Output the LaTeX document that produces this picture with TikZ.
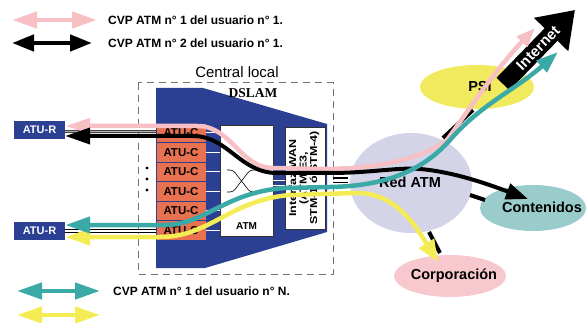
\documentclass[tikz,border=0pt]{standalone}
\usepackage{fontspec}
\setmainfont{Liberation Sans}
\newfontfamily\dslamfont{Liberation Serif}
\newfontfamily\wanfont[FakeStretch=1.25]{Liberation Sans}
\usetikzlibrary{arrows.meta,shapes.geometric}

\definecolor{cvppink}{HTML}{F6C0C4}
\definecolor{cvpteal}{HTML}{3BA9A6}
\definecolor{cvpyellow}{HTML}{F4EC55}
\definecolor{dslamblue}{HTML}{2B3F93}
\definecolor{atucorange}{HTML}{E8714F}
\definecolor{redatm}{HTML}{D3D4E8}
\definecolor{psiyellow}{HTML}{F2EA5E}
\definecolor{contteal}{HTML}{99CCCA}
\definecolor{corppink}{HTML}{F7C8CD}

\tikzset{
  legend/.style={font=\bfseries\fontsize{12}{14}\selectfont, anchor=west, inner sep=0pt},
  cvp/.style={line width=4.5pt},
  atur/.style={fill=dslamblue, text=white, font=\bfseries\fontsize{11}{13}\selectfont,
    minimum width=51pt, minimum height=18pt, inner sep=0pt},
  atuc/.style={fill=atucorange, draw=dslamblue, line width=0.8pt,
    font=\bfseries\fontsize{11.5}{13}\selectfont, minimum width=50pt, minimum height=19.5pt, inner sep=0pt},
  whitebox/.style={fill=white, draw=black!80, line width=0.6pt, inner sep=0pt},
  cloud/.style={font=\bfseries\fontsize{14.5}{17}\selectfont, inner sep=0pt},
  portline/.style={white, line width=0.8pt},
}

\begin{document}
\begin{tikzpicture}[x=1pt,y=-1pt]
\useasboundingbox (0,0) rectangle (586,323);

% leyenda
\node[legend] (leg1) at (108,20) {CVP ATM n° 1 del usuario n° 1.};
\node[legend] (leg2) at (108,43) {CVP ATM n° 2 del usuario n° 1.};
\node[legend] (leg3) at (113,291) {CVP ATM n° 1 del usuario n° N.};
\coordinate (leg4) at (113,315);
\draw[cvp, cvppink, {Triangle[length=25pt,width=16pt]}-{Triangle[length=25pt,width=16pt]}] ([xshift=-96pt]leg1.west) -- ([xshift=-11pt]leg1.west);
\draw[cvp, black, {Triangle[length=22pt,width=16pt]}-{Triangle[length=22pt,width=16pt]}] ([xshift=-96pt]leg2.west) -- ([xshift=-16pt]leg2.west);
\draw[cvp, cvpteal, {Triangle[length=25pt,width=16pt]}-{Triangle[length=25pt,width=16pt]}] ([xshift=-96pt]leg3.west) -- ([xshift=-13pt]leg3.west);
\draw[cvp, cvpyellow, {Triangle[length=25pt,width=16pt]}-{Triangle[length=25pt,width=16pt]}] ([xshift=-96pt]leg4) -- ([xshift=-13pt]leg4);

% redes
\node[ellipse, fill=redatm, minimum width=122pt, minimum height=100pt] (red) at (411,183) {};
\node[cloud] (redtext) at (410,182) {Red ATM};
\node[ellipse, fill=psiyellow, minimum width=114pt, minimum height=44pt] (psi) at (477,87) {};
\node[cloud] (psitext) at (480,87) {PSI};
\node[ellipse, fill=contteal, minimum width=106pt, minimum height=46pt] (cont) at (533,208) {};
\node[cloud] (conttext) at (542,207) {Contenidos};
\node[ellipse, fill=corppink, minimum width=112pt, minimum height=42pt] (corp) at (450,276) {};
\node[cloud] (corptext) at (454,276) {Corporación};

% Internet
\begin{scope}[shift={(503,84)}, rotate=45.8]
  \fill (0,-9) -- (69,-9) -- (69,-24) -- (103,0) -- (69,24) -- (69,9) -- (0,9) -- cycle;
\end{scope}
\node[rotate=45.8, text=white, font=\bfseries\fontsize{15}{17}\selectfont, inner sep=0pt] (inet) at (538,48) {Internet};

% central local
\draw[black!55, line width=1pt, dash pattern=on 7pt off 5pt] (138,83) rectangle (333,274);
\node[font=\fontsize{15}{18}\selectfont] (central) at (237,72) {Central local};
\fill[dslamblue] (156,88) -- (203,88) -- (327,124) -- (327,232) -- (205,268) -- (156,268) -- cycle;
\node[font=\dslamfont\bfseries\fontsize{13.5}{16}\selectfont] (dslam) at (253,93) {DSLAM};
\foreach \y in {168,179,190}
  \fill (147,\y) circle (1.6);

\node[whitebox, minimum width=53pt, minimum height=111pt] (atm) at (246.5,180.5) {};
\draw[line width=0.6pt, rounded corners=3pt] (227,170) -- (233,170) -- (250,192) -- (257,192);
\draw[line width=0.6pt, rounded corners=3pt] (227,192) -- (233,192) -- (250,170) -- (257,170);
\node[font=\bfseries\fontsize{10}{12}\selectfont] (atmtext) at (246.5,226) {ATM};

\foreach \i in {1,...,6} {
  \node[atuc] (atuc\i) at (181,113.25+19.5*\i) {ATU-C};
  \draw[portline] (atuc\i.east) -- (atuc\i.east -| atm.west);
}

\node[whitebox, minimum width=40pt, minimum height=102pt] (wan) at (305,178) {};
\node[rotate=90, align=center, font=\wanfont\bfseries\fontsize{10}{10.5}\selectfont, inner sep=0pt] (wantext) at (304,178) {Interfaz WAN\\(ATM E3,\\STM-1 ó STM-4)};
\foreach \y in {180,185}
  \draw[portline] (atm.east |- 0,\y) -- (wan.west |- 0,\y);

% usuarios
\node[atur] (atur1) at (39.5,130) {ATU-R};
\node[atur] (atur2) at (39.5,231) {ATU-R};
\draw[black!75, double=black!30, double distance=1.6pt, line width=0.7pt] (atur1.east |- 0,131.5) -- (atuc1.west |- 0,131.5);
\draw[black, double=white, double distance=2pt, line width=0.6pt] (atur2.east) -- (atur2.east -| atuc6.west);

% tramos negros
\draw[line width=1.6pt] (333,178) -- (348,178) (333,182.5) -- (348,182.5);
\draw[line width=4pt] (443,138) -- (473,110);
\draw[line width=4pt] (470,195) -- (485,200);
\draw[line width=4pt] (429,232) -- (440,253);

% circuitos virtuales
\coordinate (pinkend) at (535,28);
\coordinate (tealend) at (558,52);
\coordinate (blackend) at (528,199);
\coordinate (yellowend) at (438,262);
\draw[cvp, cvppink, {Triangle[length=25pt,width=15pt]}-{Triangle[length=19pt,width=14pt]}] ([yshift=4pt]atur1.east) -- (197,126) .. controls (232,126) and (240,168) .. (273,168) -- (320,169) .. controls (375,169) and (420,160) .. (447,140) .. controls (463,118) and (495,70) .. (pinkend);
\draw[cvp, black, line width=4pt, {Triangle[length=25pt,width=16pt]}-{Triangle[length=22pt,width=16pt]}] ([yshift=-6pt]atur1.east) -- (193,136) .. controls (228,136) and (240,173) .. (277,173) -- (330,173) .. controls (370,173) and (400,167) .. (420,169) .. controls (455,172) and (490,185) .. (blackend);
\draw[cvp, cvpyellow, {Triangle[length=25pt,width=16pt]}-{Triangle[length=22pt,width=17pt]}] ([yshift=-6pt]atur2.east) -- (160,237) .. controls (210,237) and (230,200) .. (290,195) -- (355,193) .. controls (395,192) and (415,225) .. (yellowend);
\draw[cvp, cvpteal, {Triangle[length=25pt,width=16pt]}-{Triangle[length=22pt,width=15pt]}] ([yshift=6pt]atur2.east) -- (165,225) .. controls (205,225) and (225,192) .. (285,188) -- (330,187) .. controls (390,186) and (425,168) .. (450,140) .. controls (480,105) and (515,90) .. (tealend);
\end{tikzpicture}
\end{document}
